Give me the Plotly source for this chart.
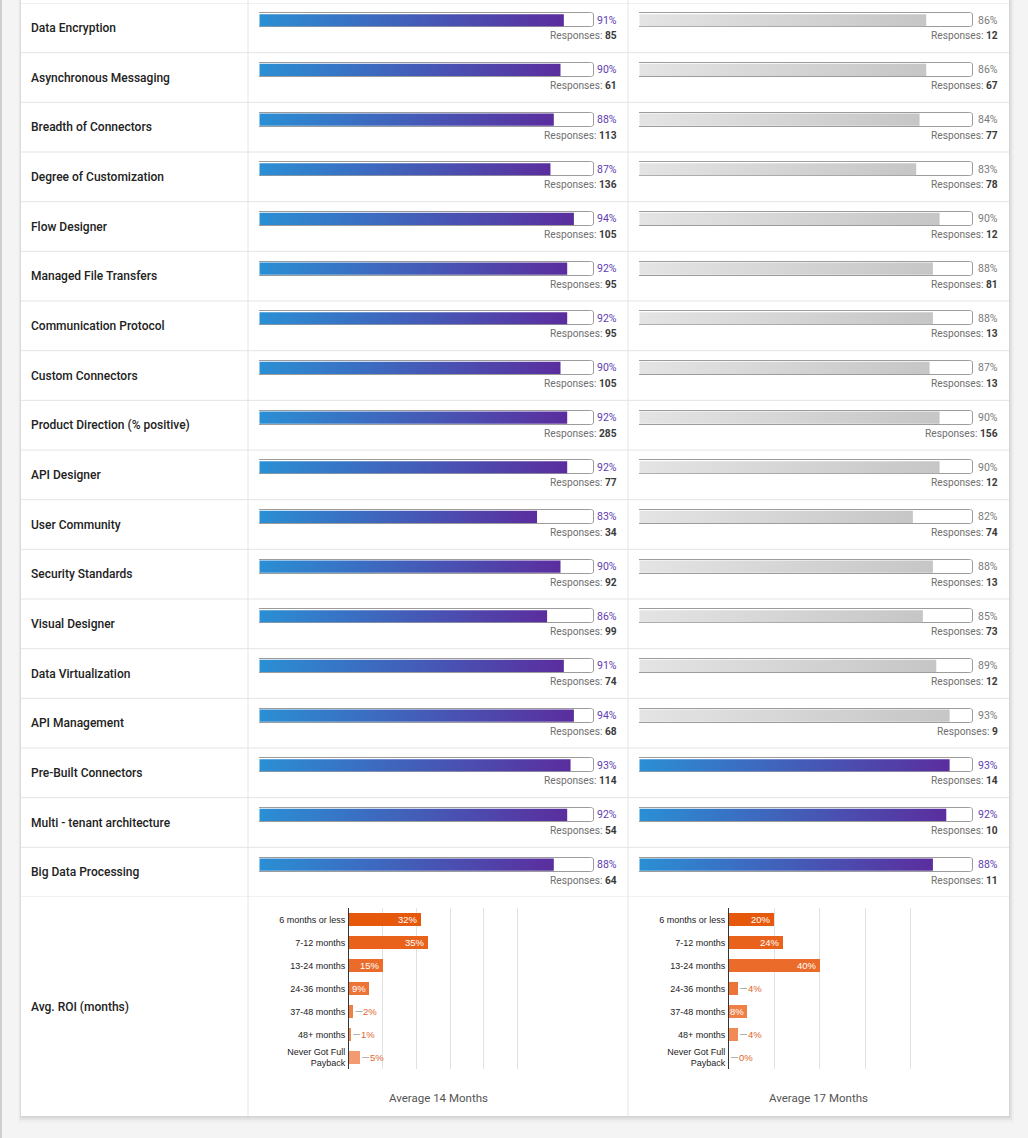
import plotly.graph_objects as go

# ---------------- data ----------------
features = ["Data Encryption", "Asynchronous Messaging", "Breadth of Connectors",
            "Degree of Customization", "Flow Designer", "Managed File Transfers",
            "Communication Protocol", "Custom Connectors", "Product Direction (% positive)",
            "API Designer", "User Community", "Security Standards", "Visual Designer",
            "Data Virtualization", "API Management", "Pre-Built Connectors",
            "Multi - tenant architecture", "Big Data Processing"]
left_pct = [91, 90, 88, 87, 94, 92, 92, 90, 92, 92, 83, 90, 86, 91, 94, 93, 92, 88]
left_resp = [85, 61, 113, 136, 105, 95, 95, 105, 285, 77, 34, 92, 99, 74, 68, 114, 54, 64]
right_pct = [86, 86, 84, 83, 90, 88, 88, 87, 90, 90, 82, 88, 85, 89, 93, 93, 92, 88]
right_resp = [12, 67, 77, 78, 12, 81, 13, 13, 156, 12, 74, 13, 73, 12, 9, 14, 10, 11]

roi_title = "Avg. ROI (months)"
roi_cats = ["6 months or less", "7-12 months", "13-24 months", "24-36 months",
            "37-48 months", "48+ months", "Never Got Full<br>Payback"]
roi_left = [32, 35, 15, 9, 2, 1, 5]
roi_right = [20, 24, 40, 4, 8, 4, 0]
roi_avg = ["Average 14 Months", "Average 17 Months"]
FULL = 100

# ---------------- layout helpers ----------------
W, H = 1028, 1138
def px(x): return x / W
def py(y): return 1 - y / H

BAR_OFF = 0.348      # bar centre inside a row (row units)
BAR_H = 0.282        # outline height
FILL_H = 0.245       # gradient fill height
RESP_OFF = 0.664
BLUE, PURPLE = "#2a8fd4", "#5b2d9e"
GRAY0, GRAY1 = "#e4e4e4", "#c6c6c6"
ROI_COLORS = ["#e6590c", "#e9621c", "#eb6b2a", "#ed7437", "#ef7f45", "#f18a55", "#f39b70"]
TXT_FONT = "Roboto"
ARIAL = "Arial, Liberation Sans"

fig = go.Figure()
n = len(features)
sides = [
    dict(vals=left_pct, other=right_pct, resp=left_resp, xa="x", shift=25),
    dict(vals=right_pct, other=left_pct, resp=right_resp, xa="x2", shift=27),
]

annotations = []
for s in sides:
    fig.add_trace(go.Bar(
        x=[FULL] * n, y=[i + BAR_OFF for i in range(n)], orientation="h", width=BAR_H,
        marker=dict(color="white", line=dict(color="#9c9c9c", width=1), cornerradius=3),
        xaxis=s["xa"], yaxis="y", hoverinfo="skip", showlegend=False))
    for i, v in enumerate(s["vals"]):
        hi = v >= s["other"][i]
        c = i + BAR_OFF
        fig.add_trace(go.Scatter(
            x=[0.15, v, v, 0.15, 0.15],
            y=[c - FILL_H / 2, c - FILL_H / 2, c + FILL_H / 2, c + FILL_H / 2, c - FILL_H / 2],
            fill="toself", mode="lines", line=dict(width=0),
            fillgradient=dict(type="horizontal",
                              colorscale=[[0, BLUE if hi else GRAY0], [1, PURPLE if hi else GRAY1]]),
            xaxis=s["xa"], yaxis="y", hoverinfo="skip", showlegend=False))
        annotations.append(dict(
            xref=s["xa"] + " domain", x=1, xshift=s["shift"], xanchor="right",
            yref="y", y=c, yanchor="middle", showarrow=False, text=f"{v}%",
            font=dict(family=TXT_FONT, size=10.5, color="#5e3cb2" if hi else "#7a7a7a")))
        annotations.append(dict(
            xref=s["xa"] + " domain", x=1, xshift=s["shift"], xanchor="right",
            yref="y", y=i + RESP_OFF, yanchor="middle", showarrow=False,
            text=f"Responses: <b><span style='color:#3a3a3a'>{s['resp'][i]}</span></b>",
            font=dict(family=TXT_FONT, size=10.2, color="#707070")))

for i, f in enumerate(features):
    annotations.append(dict(
        xref="paper", x=px(31), xshift=-2, xanchor="left", yref="y", y=i + 0.5, yanchor="middle",
        showarrow=False, text=f, font=dict(family=TXT_FONT, size=12, weight=500, color="#222")))

annotations.append(dict(
    xref="paper", x=px(31), xshift=-2, xanchor="left", yref="paper", y=py(1007), yanchor="middle",
    showarrow=False, text=roi_title, font=dict(family=TXT_FONT, size=12, weight=500, color="#222")))

# ROI charts
INSIDE_MIN = 8
for vals, xa, ya, avg, cx in [(roi_left, "x3", "y2", roi_avg[0], 438),
                              (roi_right, "x4", "y3", roi_avg[1], 818)]:
    fig.add_trace(go.Bar(
        x=vals, y=roi_cats, orientation="h", width=0.6,
        marker=dict(color=ROI_COLORS, line=dict(width=0)),
        xaxis=xa, yaxis=ya, hoverinfo="skip", showlegend=False))
    for cat, v in zip(roi_cats, vals):
        if v >= INSIDE_MIN:
            annotations.append(dict(
                xref=xa, x=v, xanchor="right", xshift=-2, yref=ya, y=cat, yanchor="middle",
                showarrow=False, text=f"{v}%", borderpad=0,
                font=dict(family=ARIAL, size=9.5, color="white")))
        else:
            annotations.append(dict(
                xref=xa, x=v, yref=ya, y=cat, showarrow=True, arrowhead=0, arrowwidth=1,
                arrowcolor="#b0b0b0", ax=9, ay=0, standoff=2, xanchor="left", yanchor="middle",
                borderpad=0, text=f"{v}%", font=dict(family=ARIAL, size=9.5, color="#e0662c")))
    annotations.append(dict(
        xref="paper", x=px(cx), xanchor="center", yref="paper", y=py(1098), yanchor="middle",
        showarrow=False, text=avg, font=dict(family=TXT_FONT, size=11.5, color="#555")))

# ---------------- shapes ----------------
shapes = []
shapes.append(dict(type="rect", xref="paper", yref="paper", x0=0, x1=px(2), y0=0, y1=1,
                   fillcolor="#cfcfcf", line=dict(width=0), layer="below"))
for k, op in [(5, 0.025), (3, 0.04), (1.5, 0.06)]:
    shapes.append(dict(type="rect", xref="paper", yref="paper", x0=px(21 - k / 2), x1=px(1009 + k),
                       y0=py(1116 + k * 1.3), y1=1.01, fillcolor=f"rgba(0,0,0,{op})",
                       line=dict(width=0), layer="below"))
shapes.append(dict(type="rect", xref="paper", yref="paper", x0=px(21), x1=px(1009),
                   y0=py(1116), y1=1.01, fillcolor="white", line=dict(width=0), layer="below"))
for i in range(n + 1):
    shapes.append(dict(type="line", xref="paper", yref="y", x0=px(21), x1=px(1009), y0=i, y1=i,
                       line=dict(color="#e4e4e4", width=1), layer="below"))
for xc in (248, 628):
    shapes.append(dict(type="line", xref="paper", yref="paper", x0=px(xc), x1=px(xc),
                       y0=py(1116), y1=1.01, line=dict(color="#e4e4e4", width=1), layer="below"))

hidden = dict(visible=False, fixedrange=True)
roi_x = dict(showgrid=True, gridcolor="#e2e2e2", gridwidth=1, showticklabels=False,
             zeroline=False, ticks="", fixedrange=True)
roi_y = dict(type="category", categoryorder="array", categoryarray=roi_cats,
             range=[len(roi_cats) - 0.5, -0.5], showline=True, linecolor="#333", linewidth=1,
             showgrid=False, ticks="", ticklabelstandoff=1,
             tickfont=dict(family=ARIAL, size=9, color="#222"), fixedrange=True)

fig.update_layout(
    width=W, height=H, autosize=False, margin=dict(l=0, r=0, t=0, b=0),
    paper_bgcolor="#f4f4f4", plot_bgcolor="rgba(0,0,0,0)",
    xaxis=dict(domain=[px(259), px(594)], range=[0, FULL], anchor="y", **hidden),
    xaxis2=dict(domain=[px(639), px(973)], range=[0, FULL], anchor="y", **hidden),
    yaxis=dict(domain=[py(897), py(3)], range=[n, 0], anchor="x", **hidden),
    xaxis3=dict(domain=[px(349), px(551)], range=[0, 90], dtick=15, anchor="y2", **roi_x),
    yaxis2=dict(domain=[py(1069), py(908)], anchor="x3", **roi_y),
    xaxis4=dict(domain=[px(729), px(956)], range=[0, 100], dtick=20, anchor="y3", **roi_x),
    yaxis3=dict(domain=[py(1069), py(908)], anchor="x4", **roi_y),
    annotations=annotations, shapes=shapes, bargap=0, showlegend=False,
)

fig.write_html("out.html", config={"displayModeBar": False},
               post_script="document.body.style.margin='0';document.body.style.overflow='hidden';")
